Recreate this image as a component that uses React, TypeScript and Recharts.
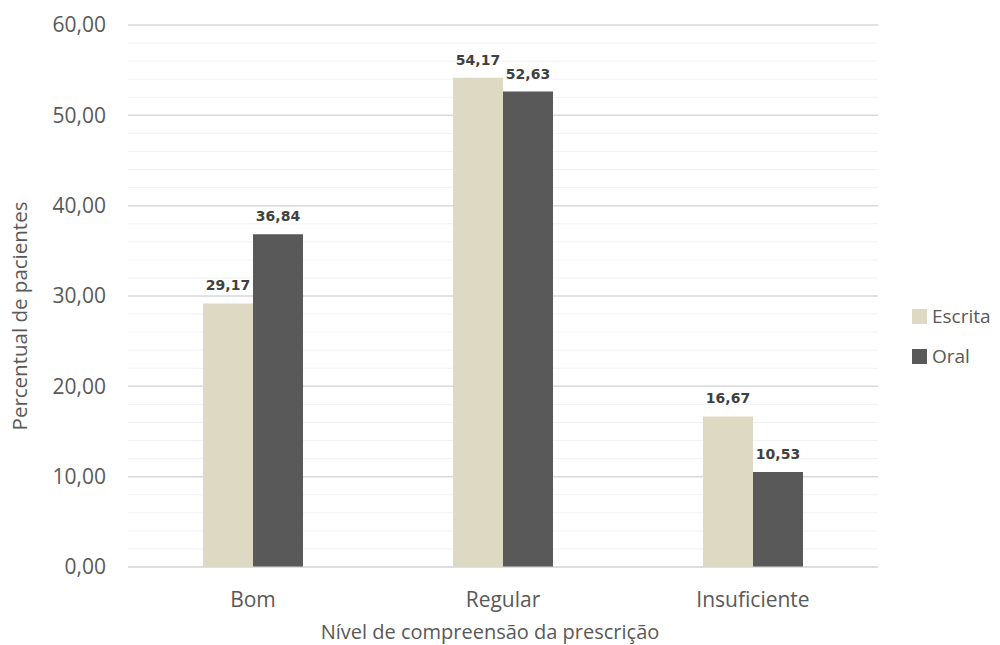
import {
  BarChart,
  Bar,
  XAxis,
  YAxis,
  CartesianGrid,
  LabelList,
  Label,
} from "recharts";

const niveis = ["Bom", "Regular", "Insuficiente"];
const escrita = [29.17, 54.17, 16.67];
const oral = [36.84, 52.63, 10.53];
const yTicks = [0, 10, 20, 30, 40, 50, 60];
const minorTicks = [2, 4, 6, 8, 12, 14, 16, 18, 22, 24, 26, 28, 32, 34, 36, 38, 42, 44, 46, 48, 52, 54, 56, 58];

const COR_ESCRITA = "#DDD9C3";
const COR_ORAL = "#595959";
const FONTE = "'Open Sans', sans-serif";

const fmt = (v: number) => v.toFixed(2).replace(".", ",");

const data = niveis.map((nome, i) => ({
  nome,
  Escrita: escrita[i],
  Oral: oral[i],
}));

const series = [
  { nome: "Escrita", cor: COR_ESCRITA },
  { nome: "Oral", cor: COR_ORAL },
];

// legenda à direita do gráfico, fora da área de plotagem
function Legenda() {
  return (
    <div
      style={{
        position: "absolute",
        left: 912,
        top: 296,
        fontFamily: FONTE,
        fontSize: 19,
        color: "#595959",
      }}
    >
      {series.map((s) => (
        <div
          key={s.nome}
          style={{ display: "flex", alignItems: "center", height: 40 }}
        >
          <span
            style={{
              display: "inline-block",
              width: 15,
              height: 15,
              background: s.cor,
              marginRight: 5,
            }}
          />
          <span>{s.nome}</span>
        </div>
      ))}
    </div>
  );
}

const rotuloDados = {
  fill: "#404040",
  fontSize: 14,
  fontWeight: "bold",
  fontFamily: "'DejaVu Sans', sans-serif",
};

export default function App() {
  return (
    <div
      style={{
        position: "absolute",
        left: 0,
        top: 0,
        width: 1000,
        height: 645,
        background: "#fff",
      }}
    >
      <BarChart
        width={1000}
        height={645}
        data={data}
        margin={{ top: 25, right: 122, bottom: 0, left: 0 }}
        barCategoryGap="30%"
        barGap={0}
      >
        <CartesianGrid
          vertical={false}
          horizontalValues={minorTicks}
          stroke="#F2F2F2"
          strokeWidth={1}
        />
        <CartesianGrid
          vertical={false}
          horizontalValues={yTicks}
          stroke="#D9D9D9"
          strokeWidth={1.5}
        />
        <XAxis
          dataKey="nome"
          axisLine={{ stroke: "#D9D9D9" }}
          tickLine={false}
          tickSize={0}
          tickMargin={25}
          height={78}
          tick={{ fill: "#595959", fontSize: 21, fontFamily: FONTE }}
        >
          <Label
            content={() => (
              <text
                x={490}
                y={639}
                textAnchor="middle"
                fill="#595959"
                fontSize={20}
                fontFamily={FONTE}
              >
                Nível de compreensão da prescrição
              </text>
            )}
          />
        </XAxis>
        <YAxis
          width={128}
          domain={[0, 60]}
          ticks={yTicks}
          interval={0}
          axisLine={false}
          tickLine={false}
          tickSize={0}
          tickMargin={22}
          tickFormatter={fmt}
          tick={{ fill: "#595959", fontSize: 21, fontFamily: FONTE }}
        >
          <Label
            content={() => (
              <text
                x={27}
                y={316}
                transform="rotate(-90, 27, 316)"
                textAnchor="middle"
                fill="#595959"
                fontSize={20.5}
                fontFamily={FONTE}
              >
                Percentual de pacientes
              </text>
            )}
          />
        </YAxis>
        <Bar dataKey="Escrita" fill={COR_ESCRITA} isAnimationActive={false}>
          <LabelList
            dataKey="Escrita"
            position="top"
            offset={13}
            formatter={(v: any) => fmt(Number(v))}
            style={rotuloDados}
          />
        </Bar>
        <Bar dataKey="Oral" fill={COR_ORAL} isAnimationActive={false}>
          <LabelList
            dataKey="Oral"
            position="top"
            offset={13}
            formatter={(v: any) => fmt(Number(v))}
            style={rotuloDados}
          />
        </Bar>
      </BarChart>
      <Legenda />
    </div>
  );
}
